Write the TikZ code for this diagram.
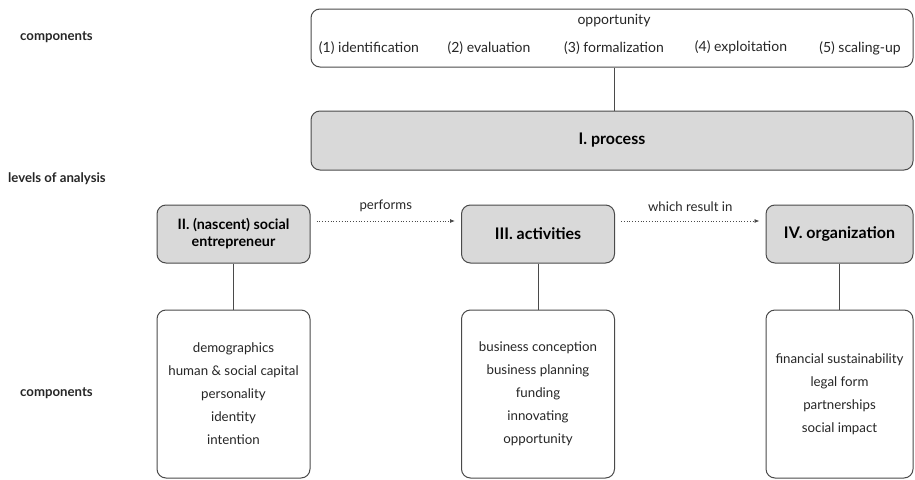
\documentclass[tikz,border=0pt]{standalone}
\usepackage{fontspec}
\setmainfont{Lato}
\usetikzlibrary{positioning,arrows.meta}
\definecolor{edgegray}{HTML}{4A4A4A}
\definecolor{boxgray}{HTML}{D9D9D9}

\begin{document}
\begin{tikzpicture}[
    x=1pt, y=-1pt,
    compBox/.style={rectangle, rounded corners=9pt, draw=edgegray, fill=white, line width=1pt, inner sep=0pt},
    levelBox/.style={rectangle, rounded corners=9pt, draw=edgegray, fill=boxgray, line width=1pt, inner sep=0pt, font=\fontsize{16}{18}\selectfont\bfseries, align=center},
    itemText/.style={font=\fontsize{14}{16}\selectfont, text=black!85, inner sep=0pt},
    listText/.style={font=\fontsize{13.3}{23}\selectfont, text=black!85, align=center, inner sep=0pt},
    sideLabel/.style={font=\fontsize{13.2}{15}\selectfont\bfseries, text=black!85, inner sep=0pt, anchor=west},
    arrowLabel/.style={font=\fontsize{13.2}{15}\selectfont, text=black!85, inner sep=0pt},
    linkLine/.style={draw=edgegray, line width=1pt},
    flowArrow/.style={-{Latex[length=5pt,width=4pt]}, dotted, draw=edgegray, line width=0.8pt, shorten <=6pt, shorten >=6pt}
]
    \useasboundingbox (0,0) rectangle (915,479);

    % Side labels
    \node[sideLabel] (lblTop) at (20,37) {components};
    \node[sideLabel] (lblLevels) at (8,179) {levels of analysis};
    \node[sideLabel] (lblBottom) at (20,393) {components};

    % Opportunity components
    \node[compBox, minimum width=602pt, minimum height=58pt] (opp) at (612,38) {};
    \node[itemText] (oppTitle) at (614,21) {opportunity};
    \node[itemText] (opp1) at (369,48) {(1) identification};
    \node[itemText] (opp2) at (489,48) {(2) evaluation};
    \node[itemText] (opp3) at (614,48) {(3) formalization};
    \node[itemText] (opp4) at (741,47) {(4) exploitation};
    \node[itemText] (opp5) at (860,48) {(5) scaling-up};

    % I. process
    \node[levelBox, minimum width=602pt, minimum height=59pt] (process) at (612,140.5) {I. process};
    \draw[linkLine] (opp.south -| oppTitle) -- (process.north -| oppTitle);

    % Levels II-IV
    \node[levelBox, minimum width=153pt, minimum height=58pt, font=\fontsize{14.3}{17}\selectfont\bfseries] (entre) at (233.5,234) {II. (nascent) social\\entrepreneur};
    \node[levelBox, minimum width=153pt, minimum height=58pt] (activ) at (538,234) {III. activities};
    \node[levelBox, minimum width=147pt, minimum height=58pt] (organ) at (839.5,234) {IV. organization};

    % Components of each level
    \node[compBox, minimum width=153pt, minimum height=168pt, below=46pt of entre] (entreComp) {};
    \node[compBox, minimum width=153pt, minimum height=168pt, below=46pt of activ] (activComp) {};
    \node[compBox, minimum width=147pt, minimum height=168pt, below=46pt of organ] (organComp) {};

    \node[listText] (entreList) at (entreComp.center) {demographics\\human \& social capital\\personality\\identity\\intention};
    \node[listText] (activList) at (activComp.center) {business conception\\business planning\\funding\\innovating\\opportunity};
    \node[listText] (organList) at (organComp.center) {financial sustainability\\legal form\\partnerships\\social impact};

    \draw[linkLine] (entre.south) -- (entreComp.north);
    \draw[linkLine] (activ.south) -- (activComp.north);
    \draw[linkLine] (organ.south) -- (organComp.north);

    % Dotted flow arrows
    \draw[flowArrow] ([yshift=13pt]entre.east) -- ([yshift=13pt]activ.west)
        node[midway, above=9pt, arrowLabel] {performs};
    \draw[flowArrow] ([yshift=13pt]activ.east) -- ([yshift=13pt]organ.west)
        node[midway, above=9pt, arrowLabel] {which result in};

\end{tikzpicture}
\end{document}
